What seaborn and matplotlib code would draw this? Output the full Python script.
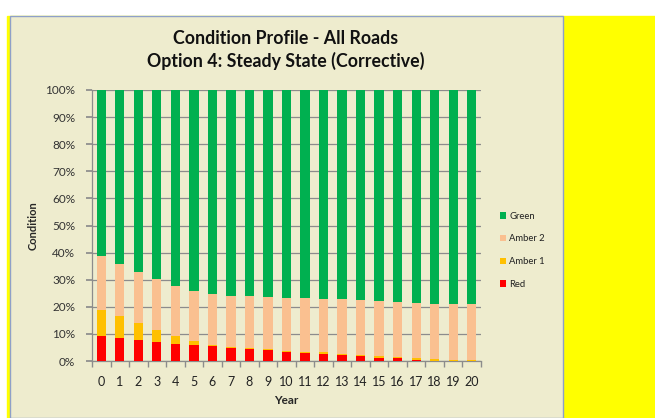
import numpy as np
import pandas as pd
import matplotlib
matplotlib.use("Agg")
import matplotlib.pyplot as plt
from matplotlib.patches import Rectangle, Patch
import seaborn as sns

years = list(range(21))
red = [9.2, 8.4, 7.6, 7.1, 6.4, 5.9, 5.4, 4.9, 4.4, 3.9, 3.4, 3.0, 2.6, 2.2, 1.7, 1.2, 1.0, 0.5, 0.0, 0.0, 0.0]
amber1 = [9.6, 8.2, 6.3, 4.3, 2.8, 1.4, 0.4, 0.4, 0.4, 0.4, 0.4, 0.4, 0.6, 0.5, 0.6, 0.6, 0.6, 0.6, 0.7, 0.5, 0.5]
amber2 = [19.9, 19.1, 18.8, 18.7, 18.4, 18.5, 18.8, 18.8, 19.1, 19.3, 19.6, 19.7, 19.7, 20.1, 20.1, 20.3, 20.0, 20.3, 20.5, 20.7, 20.7]
green = [61.3, 64.3, 67.3, 69.9, 72.4, 74.2, 75.4, 75.9, 76.1, 76.4, 76.6, 76.9, 77.1, 77.2, 77.6, 77.9, 78.4, 78.6, 78.8, 78.8, 78.8]
series_names = ["Green", "Amber 2", "Amber 1", "Red"]
colors = {"Green": "#00B050", "Amber 2": "#FAC090", "Amber 1": "#FFC000", "Red": "#FF0000"}
y_ticks = [0, 10, 20, 30, 40, 50, 60, 70, 80, 90, 100]

bg = "#EEECCE"
sns.set_theme(style="white")
plt.rcParams["font.family"] = ["Lato", "DejaVu Sans"]

fig = plt.figure(figsize=(6.55, 4.18), dpi=100)
fig.patch.set_facecolor("white")
W, H = 655.0, 418.0
def fx(px): return px / W
def fy(py): return 1 - py / H
# yellow background
fig.patches.append(Rectangle((fx(7), 0), fx(648), fy(16), transform=fig.transFigure, color="#FFFF00", zorder=-3))
# beige chart area
fig.patches.append(Rectangle((fx(10), 0), fx(553), fy(16), transform=fig.transFigure,
                             facecolor=bg, edgecolor="#8EA0C8", linewidth=1.0, zorder=-2))

ax = fig.add_axes([fx(92), fy(361), fx(481) - fx(92), fy(90) - fy(361)])
ax.set_facecolor(bg)

r = np.array(red); a1 = np.array(amber1); a2 = np.array(amber2); g = np.array(green)
cum = {"Red": r, "Amber 1": r + a1, "Amber 2": r + a1 + a2, "Green": r + a1 + a2 + g}
for name in ["Green", "Amber 2", "Amber 1", "Red"]:
    df = pd.DataFrame({"Year": [str(y) for y in years], "Value": cum[name]})
    sns.barplot(data=df, x="Year", y="Value", color=colors[name], width=0.5,
                saturation=1, ax=ax, zorder=3, linewidth=0)

ax.set_xlim(-0.5, 20.5)
ax.set_ylim(0, 100)
ax.set_yticks(y_ticks)
ax.set_yticklabels([f"{v}%" for v in y_ticks], fontsize=8.5, color="#333333")
ax.yaxis.grid(True, color="#8C8C8C", linewidth=0.9, zorder=0)
ax.set_axisbelow(True)
ax.set_xticks(range(21))
ax.set_xticklabels([str(y) for y in years], fontsize=9, color="#222222")
ax.set_xticks(np.arange(-0.5, 21, 1), minor=True)
ax.tick_params(axis="x", which="major", length=0, pad=11)
ax.tick_params(axis="x", which="minor", length=4, color="#8C8C8C", direction="out", bottom=True)
ax.tick_params(axis="y", which="major", length=4, color="#8C8C8C", direction="out", left=True, pad=8)
for s in ["top", "right"]:
    ax.spines[s].set_visible(False)
for s in ["left", "bottom"]:
    ax.spines[s].set_color("#8C8C8C")
    ax.spines[s].set_linewidth(0.9)
ax.set_xlabel("Year", fontsize=8.5, fontweight="bold")
ax.xaxis.set_label_coords(0.5, -(400 - 361) / 271.0)
ax.xaxis.label.set_va("center")
ax.set_ylabel("Condition", fontsize=8, fontweight="bold")
ax.yaxis.set_label_coords(-(92 - 33) / 389.0, 0.5)
ax.yaxis.label.set_va("center")

fig.text(fx(286), fy(38), "Condition Profile - All Roads", ha="center", va="center",
         fontsize=12.8, fontweight="bold", color="#111111")
fig.text(fx(286), fy(61), "Option 4: Steady State (Corrective)", ha="center", va="center",
         fontsize=12.8, fontweight="bold", color="#111111")

handles = [Patch(facecolor=colors[n], edgecolor="none") for n in series_names]
fig.legend(handles, series_names, loc="upper left", bbox_to_anchor=(fx(496), fy(208)),
           frameon=False, fontsize=6.8, handlelength=0.7, handleheight=0.7,
           handletextpad=0.3, labelspacing=1.45, borderaxespad=0, labelcolor="#222222")

fig.savefig("out.png", dpi=100)
